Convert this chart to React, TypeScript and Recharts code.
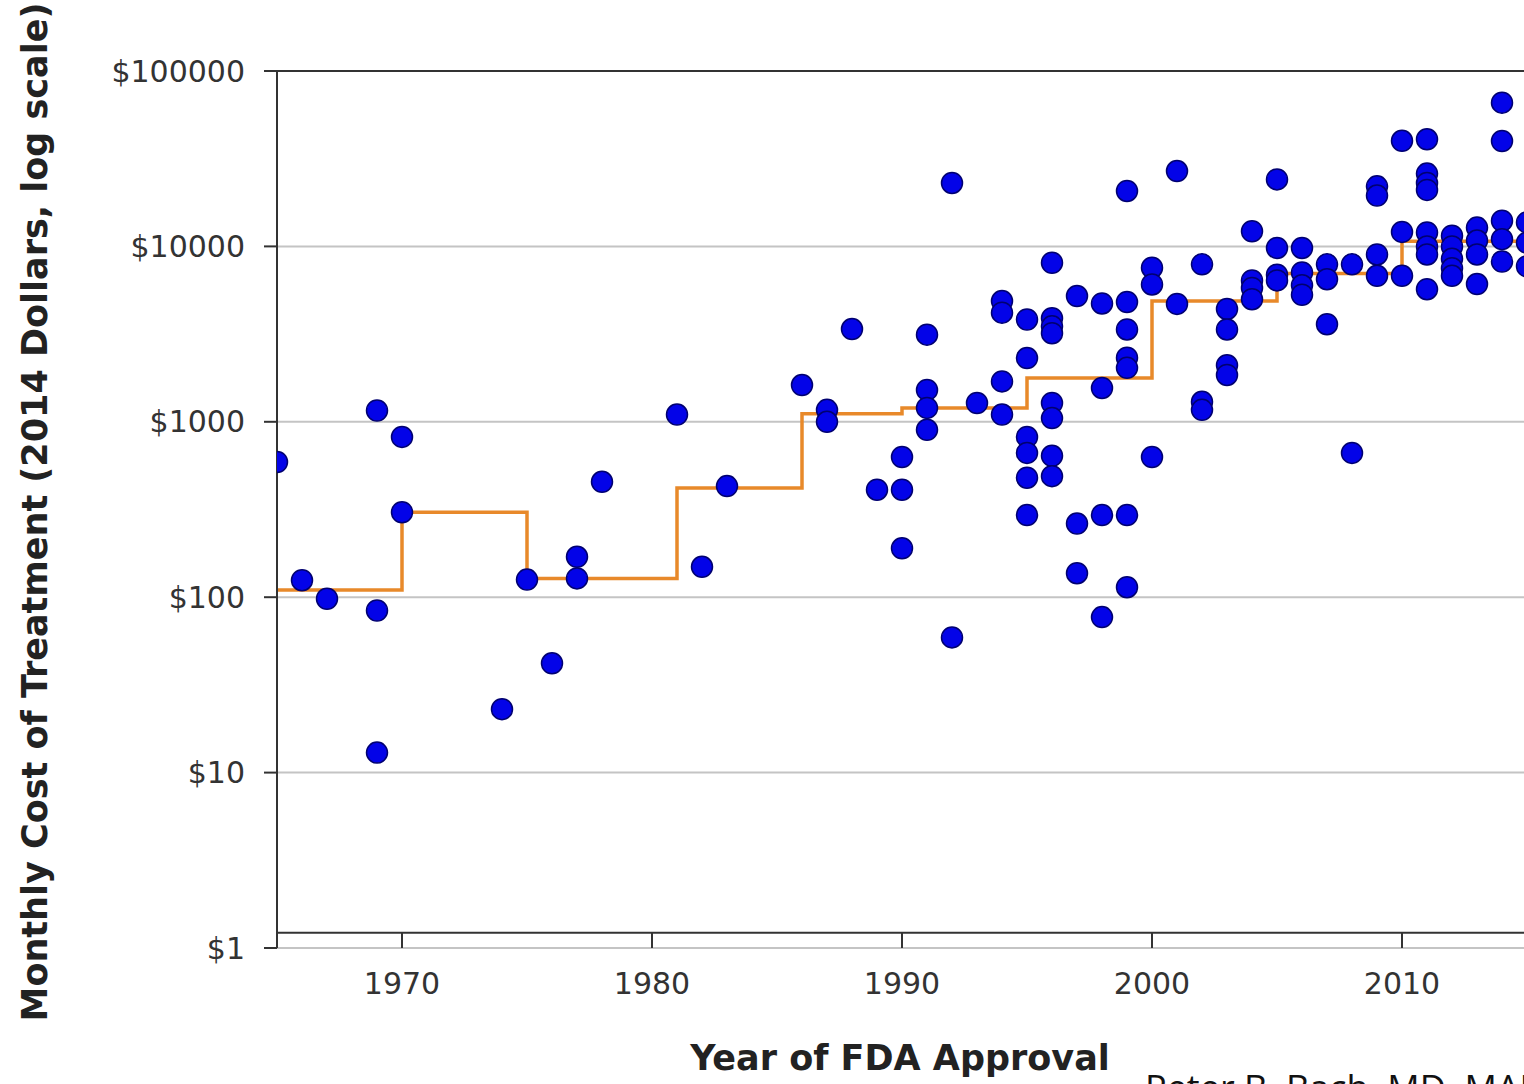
import React from "react";
import {
  ComposedChart,
  Scatter,
  Line,
  XAxis,
  YAxis,
  CartesianGrid,
  ReferenceLine,
} from "recharts";

// Approval year and monthly cost (2014 dollars) of each drug
const approvalYears = [
  1965, 1966, 1967, 1969, 1969, 1969, 1970, 1970, 1974, 1975, 1976, 1977, 1977, 1978,
  1981, 1982, 1983, 1986, 1987, 1987, 1988, 1989, 1990, 1990, 1990,
  1991, 1991, 1991, 1991, 1992, 1992, 1993, 1994, 1994, 1994, 1994,
  1995, 1995, 1995, 1995, 1995, 1995,
  1996, 1996, 1996, 1996, 1996, 1996, 1996, 1996,
  1997, 1997, 1997, 1998, 1998, 1998, 1998,
  1999, 1999, 1999, 1999, 1999, 1999, 1999,
  2000, 2000, 2000, 2001, 2001, 2002, 2002, 2002,
  2003, 2003, 2003, 2003, 2004, 2004, 2004, 2004,
  2005, 2005, 2005, 2005, 2006, 2006, 2006, 2006,
  2007, 2007, 2007, 2008, 2008, 2009, 2009, 2009, 2009,
  2010, 2010, 2010,
  2011, 2011, 2011, 2011, 2011, 2011, 2011, 2011,
  2012, 2012, 2012, 2012, 2012, 2013, 2013, 2013, 2013,
  2014, 2014, 2014, 2014, 2014, 2015, 2015, 2015,
];
const monthlyCosts = [
  590, 125, 98, 1160, 84, 13, 820, 305, 23, 126, 42, 170, 128, 455,
  1100, 149, 430, 1620, 1170, 1000, 3380, 410, 630, 410, 190,
  3140, 1520, 1200, 900, 23000, 59, 1280, 4880, 4190, 1700, 1100,
  3830, 2310, 820, 665, 480, 294,
  8070, 3900, 3500, 3200, 1280, 1050, 640, 490,
  5210, 263, 137, 4730, 1560, 294, 77,
  20700, 4820, 3360, 2320, 2030, 294, 114,
  7560, 6070, 630, 26900, 4700, 7900, 1300, 1170,
  4400, 3360, 2100, 1850, 12200, 6400, 5800, 5000,
  24100, 9800, 6900, 6400, 9800, 7100, 6000, 5300,
  7900, 6500, 3600, 7900, 665, 22000, 19500, 9000, 6800,
  40000, 12100, 6800,
  40800, 26000, 23000, 21000, 12000, 10000, 9000, 5700,
  11500, 10000, 8500, 7500, 6800, 12800, 10800, 9000, 6100,
  66000, 39900, 14000, 11000, 8200, 13700, 10500, 7700,
];

// Step line: median cost per period (start year -> level)
const stepYears = [1965, 1970, 1975, 1981, 1986, 1990, 1995, 2000, 2005, 2010, 2015];
const stepCosts = [110, 305, 128, 420, 1110, 1200, 1780, 4880, 7000, 10700, 10700];

const xTicks = [1970, 1980, 1990, 2000, 2010];
const yTicks = [1, 10, 100, 1000, 10000, 100000];
const xAxisCrossValue = 1.22;

const drugPoints = approvalYears.map((year, i) => ({ year, cost: monthlyCosts[i] }));
const stepPoints = stepYears.map((year, i) => ({ year, cost: stepCosts[i] }));

const FONT = "'DejaVu Sans', sans-serif";

const Dot = (props: any) => {
  const { cx, cy } = props;
  if (cx == null || cy == null) return null;
  return <circle cx={cx} cy={cy} r={10.5} fill="#0303E8" stroke="#000070" strokeWidth={1.5} />;
};

const XTick = (props: any) => {
  const { x, y, payload } = props;
  return (
    <g>
      <line x1={x} x2={x} y1={y - 15} y2={y} stroke="#333" strokeWidth={2} />
      <text x={x} y={y + 46} textAnchor="middle" fontSize={30} fontFamily={FONT} fill="#333">
        {payload.value}
      </text>
    </g>
  );
};

export default function App() {
  return (
    <div
      style={{
        position: "absolute",
        left: 0,
        top: 0,
        width: 1524,
        height: 1084,
        overflow: "hidden",
        background: "#fff",
      }}
    >
      <ComposedChart
        width={1530}
        height={1084}
        margin={{ top: 71, right: 3, bottom: 76, left: 77 }}
      >
        <CartesianGrid horizontal vertical={false} stroke="#c4c4c4" strokeWidth={2} />
        <XAxis
          type="number"
          dataKey="year"
          domain={[1965, 2015]}
          allowDataOverflow
          ticks={xTicks}
          height={60}
          axisLine={false}
          tickLine={false}
          tickSize={0}
          tickMargin={0}
          tick={<XTick />}
        />
        <YAxis
          type="number"
          dataKey="cost"
          scale="log"
          domain={[1, 100000]}
          allowDataOverflow
          ticks={yTicks}
          width={200}
          tickSize={13}
          tickMargin={19}
          axisLine={{ stroke: "#333", strokeWidth: 2 }}
          tickLine={{ stroke: "#333", strokeWidth: 2 }}
          tick={{ fontSize: 30, fontFamily: FONT, fill: "#333" }}
          tickFormatter={(v: number) => `$${v}`}
        />
        <ReferenceLine y={100000} stroke="#333" strokeWidth={2} />
        <ReferenceLine y={xAxisCrossValue} stroke="#333" strokeWidth={2} />
        <Scatter data={drugPoints} dataKey="cost" shape={<Dot />} isAnimationActive={false} />
        <Line
          data={stepPoints}
          dataKey="cost"
          type="stepAfter"
          stroke="#E8892A"
          strokeWidth={3.5}
          dot={false}
          activeDot={false}
          isAnimationActive={false}
        />
      </ComposedChart>
      <svg
        width={1524}
        height={1084}
        style={{ position: "absolute", left: 0, top: 0, pointerEvents: "none" }}
      >
        <text
          transform="translate(47,512) rotate(-90)"
          textAnchor="middle"
          fontSize={35}
          fontWeight="bold"
          fontFamily={FONT}
          fill="#222"
        >
          Monthly Cost of Treatment (2014 Dollars, log scale)
        </text>
        <text
          x={900}
          y={1070}
          textAnchor="middle"
          fontSize={35}
          fontWeight="bold"
          fontFamily={FONT}
          fill="#222"
        >
          Year of FDA Approval
        </text>
        <text x={1145} y={1101} fontSize={36} fontFamily="'Open Sans', sans-serif" fill="#111">
          Peter B. Bach, MD, MAPP
        </text>
      </svg>
    </div>
  );
}
